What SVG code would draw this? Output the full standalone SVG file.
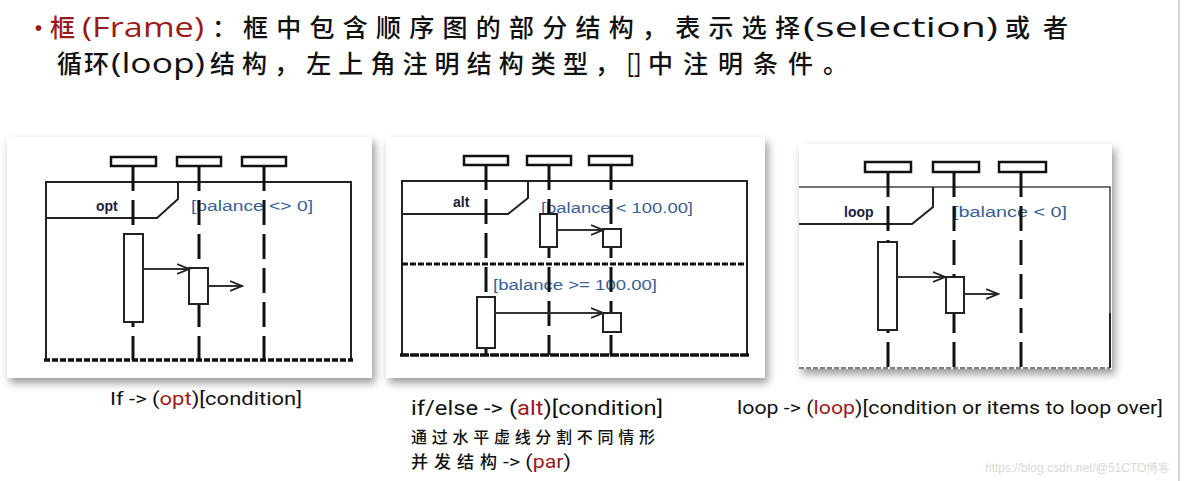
<svg xmlns="http://www.w3.org/2000/svg" width="1184" height="481" viewBox="0 0 1184 481">
<defs>
<filter id="sh" x="-10%" y="-10%" width="125%" height="125%">
<feDropShadow dx="3" dy="5" stdDeviation="4" flood-color="#000" flood-opacity="0.4"/>
</filter>
<marker id="oa" markerWidth="14" markerHeight="12" refX="12" refY="6" orient="auto" markerUnits="userSpaceOnUse">
<path d="M0,1 L12,6 L0,11" fill="none" stroke="#222" stroke-width="1.8"/>
</marker>
</defs>
<style>
.card{fill:#fff;filter:url(#sh)}
.head{fill:#fff;stroke:#111;stroke-width:2.5}
.fr{fill:none;stroke:#222;stroke-width:2}
.frb{fill:none;stroke:#111;stroke-width:3.5;stroke-dasharray:6 2}
.ll{stroke:#111;stroke-width:3;stroke-dasharray:25 9}
.act{fill:#fff;stroke:#222;stroke-width:2}
.msg{stroke:#333;stroke-width:2;marker-end:url(#oa)}
.kw{font-family:"Liberation Sans",Arial,sans-serif;font-weight:bold;font-size:14px;fill:#1c1c3c}
.cond{font-family:"Liberation Sans",Arial,sans-serif;font-size:14px;fill:#3a5f96}
.t1{font-family:"Noto Sans CJK SC",sans-serif;font-size:25px;font-weight:500;fill:#111}
.lat{font-family:"Open Sans","Noto Sans CJK SC",sans-serif;font-size:27px;fill:#111}
.red{fill:#9a1b1b}
.cap{font-family:Roboto,"Noto Sans CJK SC",sans-serif;fill:#111}
.cj{font-family:"Noto Sans CJK SC",sans-serif;font-weight:500;fill:#111}
</style>
<line x1="1179" y1="0" x2="1179" y2="481" stroke="#d4d4d4" stroke-width="2"/>
<g id="title">
<text x="26" y="38" class="t1 red" font-size="28">•</text>
<text x="50" y="37" class="t1 red">框</text>
<text x="82" y="37" class="lat red" textLength="122" lengthAdjust="spacingAndGlyphs">(Frame)</text>
<text x="212" y="37" class="t1">：</text>
<text x="243" y="37" class="t1" textLength="557" lengthAdjust="spacing">框中包含顺序图的部分结构，表示选择</text>
<text x="803" y="37" class="lat" textLength="195" lengthAdjust="spacingAndGlyphs">(selection)</text>
<text x="1005" y="37" class="t1" textLength="63" lengthAdjust="spacing">或者</text>
<text x="57" y="73" class="t1" textLength="52" lengthAdjust="spacing">循环</text>
<text x="111" y="73" class="lat" textLength="94" lengthAdjust="spacingAndGlyphs">(loop)</text>
<text x="210" y="73" class="t1" textLength="410" lengthAdjust="spacing">结构，左上角注明结构类型，</text>
<text x="627" y="73" class="lat" textLength="14" lengthAdjust="spacingAndGlyphs">[]</text>
<text x="648" y="73" class="t1" textLength="200" lengthAdjust="spacing">中注明条件。</text>
</g>
<g id="panel-opt">
<rect class="card" x="7" y="137" width="365" height="241"/>
<rect class="head" x="111" y="157" width="45" height="9"/>
<rect class="head" x="177" y="157" width="44" height="9"/>
<rect class="head" x="242" y="157" width="44" height="9"/>
<path class="fr" d="M46,360 V182 H351 V360"/>
<path class="fr" d="M46,218 H157 L178,199 V182"/>
<line class="frb" x1="44" y1="360" x2="353" y2="360"/>
<text class="kw" x="96" y="211">opt</text>
<text class="cond" x="191" y="211" textLength="122" lengthAdjust="spacingAndGlyphs">[balance &lt;&gt; 0]</text>
<line class="ll" x1="133" y1="166" x2="133" y2="360"/>
<line class="ll" x1="199" y1="166" x2="199" y2="360"/>
<line class="ll" x1="264" y1="166" x2="264" y2="360"/>
<rect class="act" x="124" y="234" width="19" height="88"/>
<rect class="act" x="189" y="268" width="19" height="36"/>
</g>
<g id="panel-alt">
<rect class="card" x="386" y="137" width="379" height="241"/>
<rect class="head" x="464" y="156" width="44" height="9"/>
<rect class="head" x="527" y="156" width="44" height="9"/>
<rect class="head" x="589" y="156" width="43" height="9"/>
<path class="fr" d="M402,355 V181 H747 V355"/>
<path class="fr" d="M402,214 H508 L528,198 V181"/>
<line x1="402" y1="264" x2="747" y2="264" stroke="#111" stroke-width="3" stroke-dasharray="6 2"/>
<line x1="400" y1="355" x2="749" y2="355" stroke="#111" stroke-width="3.5" stroke-dasharray="9 1"/>
<text class="kw" x="453" y="207">alt</text>
<text class="cond" x="541" y="213" textLength="152" lengthAdjust="spacingAndGlyphs">[balance &lt; 100.00]</text>
<text class="cond" x="493" y="290" textLength="164" lengthAdjust="spacingAndGlyphs">[balance &gt;= 100.00]</text>
<line class="ll" x1="486" y1="165" x2="486" y2="355"/>
<line class="ll" x1="549" y1="165" x2="549" y2="355"/>
<line class="ll" x1="611" y1="165" x2="611" y2="355"/>
<rect class="act" x="540" y="214" width="17" height="33"/>
<rect class="act" x="603" y="229" width="18" height="18"/>
<rect class="act" x="477" y="297" width="18" height="51"/>
<rect class="act" x="603" y="313" width="18" height="19"/>
</g>
<g id="panel-loop">
<rect class="card" x="799" y="144" width="313" height="225"/>
<rect class="head" x="865" y="162" width="46" height="10"/>
<rect class="head" x="933" y="162" width="46" height="10"/>
<rect class="head" x="999" y="162" width="47" height="10"/>
<path d="M799,187 H1110 V368" fill="none" stroke="#444" stroke-width="1.5"/>
<line x1="1110" y1="313" x2="1110" y2="368" stroke="#222" stroke-width="2"/>
<path class="fr" d="M799,224 H912 L933,207 V187"/>
<line x1="799" y1="368" x2="1110" y2="368" stroke="#555" stroke-width="1.5" stroke-dasharray="5 2"/>
<text class="kw" x="844" y="217" font-size="15">loop</text>
<text class="cond" x="953" y="217" textLength="114" lengthAdjust="spacingAndGlyphs">[balance &lt; 0]</text>
<line class="ll" x1="888" y1="172" x2="888" y2="368"/>
<line class="ll" x1="954" y1="172" x2="954" y2="368"/>
<line class="ll" x1="1021" y1="172" x2="1021" y2="368"/>
<rect class="act" x="878" y="242" width="19" height="88"/>
<rect class="act" x="946" y="277" width="18" height="36"/>
</g>
<g id="connectors">
<line class="msg" x1="143" y1="269" x2="189" y2="269"/>
<line class="msg" x1="208" y1="286" x2="242" y2="286"/>
<line class="msg" x1="557" y1="230" x2="603" y2="230"/>
<line class="msg" x1="495" y1="313" x2="603" y2="313"/>
<line class="msg" x1="897" y1="277" x2="945" y2="277"/>
<line class="msg" x1="964" y1="294" x2="998" y2="294"/>
</g>
<g id="captions">
<text class="cap" x="110" y="405" font-size="19" textLength="192" lengthAdjust="spacingAndGlyphs">If -&gt; (<tspan class="red">opt</tspan>)[condition]</text>
<text class="cap" x="411" y="415" font-size="21" textLength="252" lengthAdjust="spacingAndGlyphs">if/else -&gt; (<tspan class="red">alt</tspan>)[condition]</text>
<text class="cj" x="411" y="443" font-size="16" textLength="244" lengthAdjust="spacing">通过水平虚线分割不同情形</text>
<text class="cj" x="411" y="468" font-size="17" textLength="86" lengthAdjust="spacing">并发结构</text>
<text class="cap" x="503" y="468" font-size="19" textLength="68" lengthAdjust="spacingAndGlyphs">-&gt; (<tspan class="red">par</tspan>)</text>
<text class="cap" x="737" y="414" font-size="19" textLength="426" lengthAdjust="spacingAndGlyphs">loop -&gt; (<tspan class="red">loop</tspan>)[condition or items to loop over]</text>
<text x="985" y="472" font-family="Liberation Sans,sans-serif" font-size="12" fill="#d8d8d8">https://blog.csdn.net/@51CTO博客</text>
</g>
</svg>
